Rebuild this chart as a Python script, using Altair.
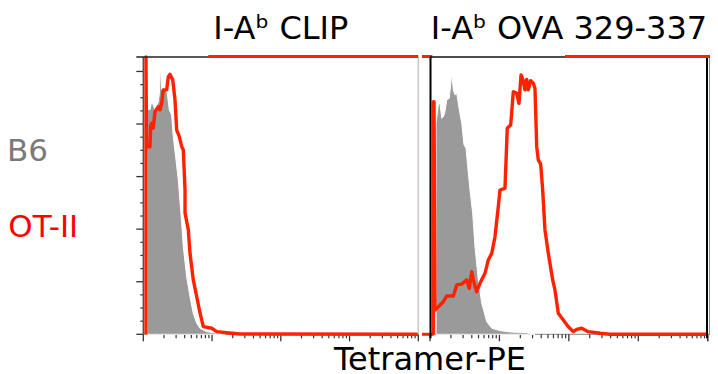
import altair as alt
import pandas as pd

RED = "#ff2200"
GRAY_FILL = "#9a9a9a"
FONT = "DejaVu Sans"

titles = ["I-A\u1d47 CLIP", "I-A\u1d47 OVA 329-337"]
row_labels = ["B6", "OT-II"]
x_title = "Tetramer-PE"

# x = decade position (log10 of Tetramer-PE intensity), y = % of max count
clip_b6_e = [1.061, 1.097, 1.122, 1.148, 1.170, 1.218, 1.236, 1.243, 1.255, 1.268, 1.316, 1.349,
             1.378, 1.413, 1.436, 1.476, 1.509, 1.524, 1.559, 1.582, 1.631, 1.679, 1.727, 1.777,
             1.825, 1.922, 2.018, 2.188]
clip_b6_y = [85.8, 85.4, 88.5, 87.0, 85.4, 88.5, 92.0, 99.3, 99.0, 93.0, 93.6, 91.7,
             85.4, 83.4, 75.2, 66.3, 58.7, 53.7, 42.2, 33.3, 21.9, 14.3, 8.0, 4.2,
             2.3, 1.0, 0.6, 0.0]
clip_ot_e = [1.039, 1.039, 1.047, 1.097, 1.108, 1.122, 1.145, 1.170, 1.218, 1.243, 1.268, 1.291,
             1.340, 1.364, 1.388, 1.428, 1.461, 1.486, 1.524, 1.559, 1.582, 1.607, 1.607, 1.655,
             1.679, 1.727, 1.777, 1.825, 1.873, 1.995, 2.068, 2.213, 2.407, 5.0]
clip_ot_y = [0, 105.5, 71.3, 71.3, 79.0, 80.3, 78.5, 84.7, 86.6, 85.4, 88.0, 93.0,
             93.0, 98.0, 98.9, 96.8, 89.2, 77.7, 75.2, 71.4, 70.1, 54.9, 46.2, 39.7,
             30.9, 20.7, 14.3, 8.1, 2.9, 2.3, 1.0, 0.6, 0.1, 0]

ova_b6_e = [1.086, 1.120, 1.144, 1.169, 1.192, 1.216, 1.241, 1.278, 1.313, 1.336, 1.360, 1.385,
            1.422, 1.457, 1.490, 1.519, 1.552, 1.576, 1.615, 1.648, 1.696, 1.745, 1.817, 1.889,
            2.008, 2.152, 2.393, 2.51]
ova_b6_y = [80.3, 87.3, 87.9, 82.2, 82.8, 84.7, 89.2, 89.8, 99.3, 93.0, 91.1, 91.7,
            85.4, 80.3, 72.0, 70.8, 61.3, 54.9, 46.0, 33.3, 20.7, 11.8, 4.8, 2.3,
            1.4, 0.9, 0.6, 0.0]
ova_ot_e = [1.050, 1.050, 1.058, 1.072, 1.120, 1.192, 1.241, 1.336, 1.385, 1.457,
            1.529, 1.566, 1.601, 1.624, 1.673, 1.720, 1.792, 1.840, 1.889, 1.936,
            1.984, 2.008, 2.056, 2.080, 2.113, 2.162, 2.200, 2.249, 2.282, 2.311,
            2.339, 2.368, 2.393, 2.416, 2.450, 2.488, 2.512, 2.537, 2.560, 2.594,
            2.623, 2.656, 2.704, 2.767, 2.800, 2.848, 2.920, 2.992, 3.064, 3.113,
            3.185, 3.280, 3.449, 3.593, 5.0]
ova_ot_y = [0, 88.5, 88.5, 9.2, 10.5, 12.4, 14.6, 14.6, 18.8, 19.1,
            20.7, 17.5, 23.8, 20.7, 16.2, 19.4, 23.2, 28.3, 30.8, 37.1,
            48.6, 54.9, 55.3, 55.6, 78.4, 79.6, 92.3, 91.7, 87.9, 98.7,
            96.8, 93.0, 97.0, 93.0, 96.5, 95.5, 93.6, 71.4, 66.3, 64.8,
            54.9, 39.7, 30.8, 20.7, 16.9, 8.0, 5.4, 2.9, 1.0, 1.9,
            2.3, 1.0, 0.4, 0, 0]

p3_b6_e = [1.080, 1.152, 1.25]
p3_b6_y = [77.7, 94.0, 95.0]
p3_ot_e = [1.048, 1.048, 1.062, 1.160, 1.30]
p3_ot_y = [0, 105.5, 27.6, 40.3, 60.0]

x_major = [10, 100, 1000, 10000, 100000]
x_minor = [k * 10 ** n for n in range(1, 5) for k in range(2, 10)]
y_major = [0, 20, 40, 60, 80, 100]
y_minor = [5, 10, 15, 25, 30, 35, 45, 50, 55, 65, 70, 75, 85, 90, 95]

H = 277.3
W = 566.7
SY = alt.Scale(domain=[0, 105.5], nice=False, zero=False)
dummy = pd.DataFrame({"d": [0]})


def panel(rng, b6_e, b6_y, ot_e, ot_y, yticks=False):
    sx = alt.Scale(type="log", domain=[10, 100000], range=rng, nice=False)
    b6 = pd.DataFrame({"e": b6_e, "y": b6_y})
    ot = pd.DataFrame({"e": ot_e, "y": ot_y, "i": list(range(len(ot_e)))})
    X = alt.X("v:Q", scale=sx, axis=None)
    Y = alt.Y("y:Q", scale=SY, axis=None)
    area = (alt.Chart(b6).transform_calculate(v="pow(10, datum.e)")
            .mark_area(fill=GRAY_FILL, stroke="white", strokeWidth=1)
            .encode(x=X, y=Y))
    line = (alt.Chart(ot).transform_calculate(v="pow(10, datum.e)")
            .mark_line(color=RED, strokeWidth=3.4, strokeJoin="round")
            .encode(x=X, y=Y, order="i:Q"))
    maj = (alt.Chart(pd.DataFrame({"v": x_major})).mark_rule(color="#333", strokeWidth=1.3)
           .encode(x=X, y=alt.value(H), y2=alt.value(H + 7)))
    mnr = (alt.Chart(pd.DataFrame({"v": x_minor})).mark_rule(color="#333", strokeWidth=1.2)
           .encode(x=X, y=alt.value(H), y2=alt.value(H + 4)))
    base = (alt.Chart(dummy).mark_rule(color="#888", strokeWidth=1)
            .encode(x=alt.value(rng[0]), x2=alt.value(min(rng[1], W)), y=alt.value(H)))
    layers = [base, maj, mnr]
    if yticks:
        ymaj = (alt.Chart(pd.DataFrame({"y": y_major})).mark_rule(color="#333", strokeWidth=1.3)
                .encode(y=Y, x=alt.value(-7), x2=alt.value(0)))
        ymin = (alt.Chart(pd.DataFrame({"y": y_minor})).mark_rule(color="#333", strokeWidth=1.2)
                .encode(y=Y, x=alt.value(-3), x2=alt.value(0)))
        layers += [ymaj, ymin]
    layers += [area, line]
    return alt.layer(*layers)


def hrule(x1, x2, y, color, w):
    return (alt.Chart(dummy).mark_rule(color=color, strokeWidth=w)
            .encode(x=alt.value(x1), x2=alt.value(x2), y=alt.value(y)))


def vrule(x, y1, y2, color, w):
    return (alt.Chart(dummy).mark_rule(color=color, strokeWidth=w)
            .encode(x=alt.value(x), y=alt.value(y1), y2=alt.value(y2)))


def label(txt, x, y, color, align, size):
    return (alt.Chart(pd.DataFrame({"t": [txt]}))
            .mark_text(font=FONT, fontSize=size, color=color, align=align, baseline="alphabetic")
            .encode(text="t:N", x=alt.value(x), y=alt.value(y)))


p1 = panel([0, 275.0], clip_b6_e, clip_b6_y, clip_ot_e, clip_ot_y, yticks=True)
p2 = panel([286.7, 564.4], ova_b6_e, ova_b6_y, ova_ot_e, ova_ot_y)
p3 = panel([564.4, 842.1], p3_b6_e, p3_b6_y, p3_ot_e, p3_ot_y)

frames = [
    vrule(0, 0, H, "#555", 1.5),
    vrule(275, 0, H, "#c8c8c8", 1.5),
    hrule(-7, 90, 0, "#222", 1.5),
    hrule(65, 275, -0.5, RED, 3),
    hrule(278.7, 289, -0.5, RED, 3),
    hrule(278.7, 290.5, H, RED, 3),
    hrule(286.7, W, 0, "#111", 1.5),
    vrule(287.2, 0, H + 4, "#000", 2),
    vrule(563.7, 0, H + 4, "#000", 2),
    hrule(421.7, W, -0.5, RED, 3),
]

texts = [
    label(titles[0], 137.5, -18, "#000", "center", 32),
    label(titles[1], 425.7, -18, "#000", "center", 32),
    label(row_labels[0], -136.3, 103.7, "#7a7a7a", "left", 31),
    label(row_labels[1], -135.0, 180.0, "#ff0000", "left", 31),
    label(x_title, 286.7, 313.0, "#000", "center", 32),
]

chart = (
    alt.layer(p1, p2, p3, *frames, *texts)
    .resolve_scale(x="independent")
    .properties(
        width=W,
        height=H,
        autosize=alt.AutoSizeParams(type="none"),
        padding={"left": 135.3, "top": 49, "right": 0, "bottom": 39.7},
        background="white",
    )
    .configure_view(stroke=None)
)

chart.save("out.html", embed_options={"renderer": "svg", "actions": False})
